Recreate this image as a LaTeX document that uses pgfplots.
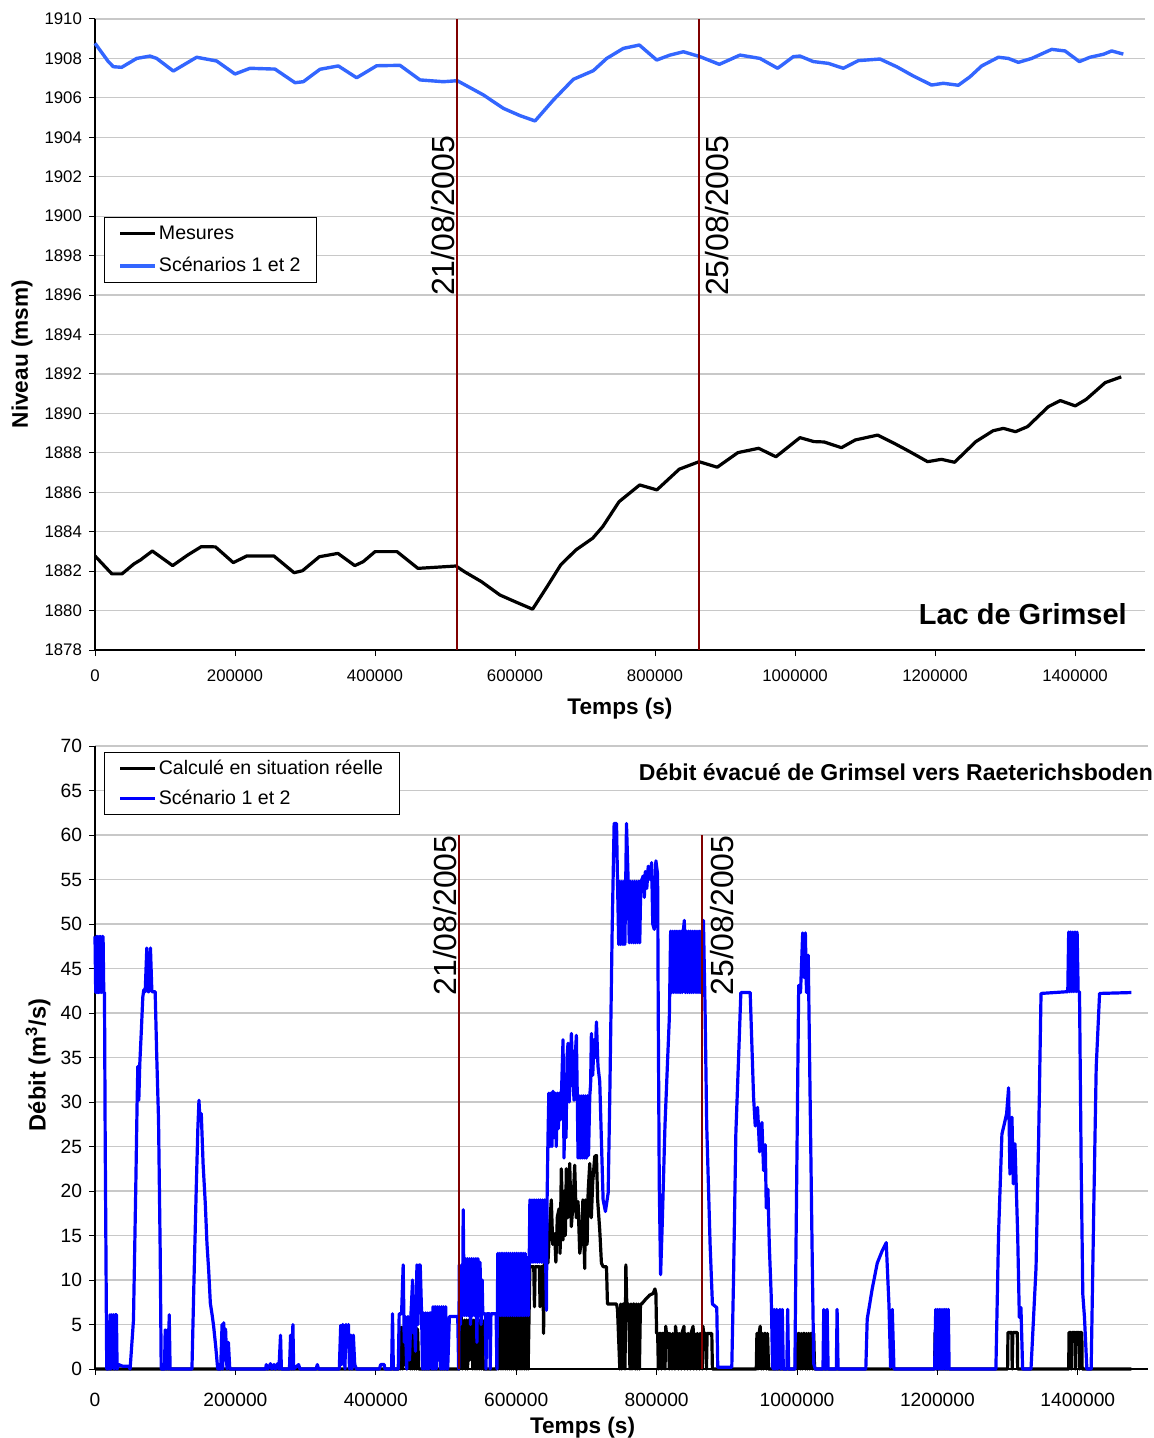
\documentclass[border=0pt]{standalone}
\usepackage{fontspec}
\setmainfont{Liberation Sans}
\usepackage{pgfplots}
\pgfplotsset{compat=1.18}
\definecolor{darkred}{RGB}{128,0,0}
\definecolor{lightblue}{RGB}{51,102,255}
\definecolor{gridgray}{RGB}{200,200,200}
\pgfplotsset{excel/.style={
  scale only axis,
  axis x line=bottom, axis y line=left,
  axis line style={-, black, line width=0.6pt},
  tick align=outside, major tick length=3pt,
  tick style={black, line width=0.5pt},
  ymajorgrids, grid style={gridgray, line width=0.6pt},
  xmin=0, xmax=1500000,
  xtick={0,200000,400000,600000,800000,1000000,1200000,1400000},
  xticklabels={0,200000,400000,600000,800000,1000000,1200000,1400000},
  scaled x ticks=false, scaled y ticks=false,
  yticklabel style={/pgf/number format/fixed, /pgf/number format/1000 sep={}},
  /pgf/number format/assume math mode=true,
  label style={font=\fontsize{11.3}{13}\selectfont\bfseries},
  legend cell align=left,
  legend image code/.code={\draw[#1] (0pt,0pt) -- (17.5pt,0pt);},
  every axis plot/.append style={line join=round},
  clip=false,
}}
\begin{document}
\begin{tikzpicture}
\path[use as bounding box] (0,0) rectangle (577pt,-719pt);
% ---------------- top axis ----------------
\begin{axis}[excel,
  at={(47.5pt,-325pt)}, anchor=south west,
  width=525pt, height=315.5pt,
  ymin=1878, ymax=1910, ytick={1878,1880,...,1910},
  tick label style={font=\fontsize{8.4}{10}\selectfont},
  xticklabel style={yshift=-3.5pt},
  xlabel={Temps (s)}, ylabel={Niveau (msm)},
  xlabel style={at={(axis description cs:0.5,0)}, anchor=center, yshift=-29.5pt},
  ylabel style={at={(axis description cs:-0.0695,0.469)}, anchor=center},
  legend style={at={(0.0086,0.686)}, anchor=north west, draw=black, line width=0.5pt, fill=white,
    inner xsep=7pt, inner ysep=3pt, row sep=5.5pt, nodes={inner sep=1pt},
    font=\fontsize{9.8}{11}\selectfont},
]
\addplot[black, line width=1.6pt, mark=none] coordinates {
(0,1882.77)(24100,1881.86)(38600,1881.86)(55400,1882.36)(65100,1882.57)(81900,1883.02)(110900,1882.28)(132600,1882.82)(151800,1883.24)(172100,1883.23)(197600,1882.43)(216900,1882.77)(255500,1882.77)(284400,1881.92)(296400,1882.02)(320500,1882.73)(347000,1882.90)(371100,1882.28)(383200,1882.48)(400100,1882.99)(431400,1882.99)(461300,1882.14)(515700,1882.26)(527800,1881.97)(551900,1881.47)(578400,1880.79)(600100,1880.45)(625100,1880.07)(645800,1881.21)(665200,1882.31)(686800,1883.07)(711000,1883.67)(725400,1884.26)(748600,1885.52)(778100,1886.37)(802700,1886.12)(834700,1887.17)(862900,1887.55)(888900,1887.27)(918400,1888.01)(948000,1888.23)(972700,1887.80)(1007100,1888.77)(1026900,1888.57)(1041600,1888.55)(1066300,1888.26)(1086000,1888.65)(1118000,1888.90)(1140100,1888.51)(1162300,1888.09)(1189400,1887.55)(1209100,1887.67)(1227900,1887.52)(1258400,1888.57)(1283000,1889.12)(1297700,1889.24)(1315000,1889.07)(1332300,1889.33)(1361900,1890.34)(1379000,1890.65)(1400300,1890.38)(1416000,1890.71)(1443100,1891.56)(1466000,1891.85)
};
\addlegendentry{Mesures}
\addplot[lightblue, line width=1.7pt, mark=none] coordinates {
(0,1908.77)(19000,1907.84)(26200,1907.58)(38100,1907.55)(59500,1908.0)(78600,1908.12)(88100,1908.0)(111900,1907.36)(145200,1908.06)(173800,1907.87)(200000,1907.21)(221400,1907.5)(257100,1907.46)(285700,1906.77)(297600,1906.82)(321400,1907.45)(347600,1907.62)(373800,1907.02)(402400,1907.63)(435700,1907.65)(464300,1906.91)(497600,1906.82)(517600,1906.87)(554800,1906.15)(583300,1905.47)(607100,1905.10)(628600,1904.83)(654800,1905.89)(683300,1906.94)(711900,1907.38)(731000,1908.0)(754800,1908.51)(777600,1908.68)(802400,1907.92)(821400,1908.17)(840500,1908.34)(864300,1908.09)(891900,1907.70)(921400,1908.17)(950000,1908.0)(975200,1907.5)(997600,1908.09)(1007100,1908.12)(1026200,1907.84)(1047600,1907.75)(1069000,1907.5)(1090500,1907.89)(1121400,1907.97)(1145200,1907.58)(1169000,1907.11)(1195200,1906.65)(1211900,1906.74)(1233300,1906.64)(1250000,1907.07)(1266700,1907.62)(1290500,1908.06)(1304800,1908.0)(1319000,1907.80)(1338100,1908.0)(1366700,1908.46)(1385700,1908.38)(1406200,1907.84)(1421400,1908.06)(1440500,1908.21)(1452400,1908.38)(1469000,1908.22)
};
\addlegendentry{Scénarios 1 et 2}
\addplot[darkred, line width=0.8pt, forget plot] coordinates {(517000,1878)(517000,1910)};
\addplot[darkred, line width=0.8pt, forget plot] coordinates {(863000,1878)(863000,1910)};
\node[rotate=90, anchor=south east, inner xsep=0pt, inner ysep=1pt, font=\fontsize{16}{18}\selectfont] at (axis cs:517000,1904.1) {21/08/2005};
\node[rotate=90, anchor=north east, inner xsep=0pt, inner ysep=3pt, font=\fontsize{16}{18}\selectfont] at (axis cs:863000,1904.1) {25/08/2005};
\node[anchor=east, inner sep=0pt, font=\fontsize{14.5}{16}\selectfont\bfseries] at (rel axis cs:0.983,0.057) {Lac de Grimsel};
\end{axis}
% ---------------- bottom axis ----------------
\begin{axis}[excel,
  at={(47.5pt,-684.5pt)}, anchor=south west,
  width=526.5pt, height=311.5pt,
  ymin=0, ymax=70, ytick={0,5,...,70},
  tick label style={font=\fontsize{9.6}{11}\selectfont},
  xticklabel style={yshift=-5.5pt},
  xlabel={Temps (s)}, ylabel={Débit (m\textsuperscript{3}/s)},
  xlabel style={at={(axis description cs:0.463,0)}, anchor=center, yshift=-29.5pt},
  ylabel style={at={(axis description cs:-0.0541,0.488)}, anchor=center, font=\fontsize{11.8}{13}\selectfont\bfseries},
  legend style={at={(0.0086,0.99)}, anchor=north west, draw=black, line width=0.5pt, fill=white,
    inner xsep=7pt, inner ysep=2.5pt, row sep=4.5pt, nodes={inner sep=1pt},
    font=\fontsize{9.8}{11}\selectfont},
]
\addplot[black, line width=1.6pt, mark=none] coordinates {
(0,0)(433000,0)(434000,4.7)(435500,0)(437000,4.7)(438500,0)(440000,4.7)(441500,0.5)(443000,4.7)(444500,0)(446000,4.7)(447500,4.7)(449000,0)(450500,4.7)(452000,0)(453500,4.7)(455000,0)(456500,4.7)(458000,0)(459500,4.5)(461000,0)(462000,0)(519500,0)(521400,7.6)(523000,0)(526200,5.5)(527700,0)(529200,5.5)(530700,0)(532200,5.5)(533700,1)(535200,5.5)(536700,5.5)(538200,0)(539700,5.5)(541200,0)(542700,5.5)(544200,0)(545700,5.5)(547200,0)(548700,5.5)(550200,0)(551700,5.5)(553200,0)(554800,0)(572000,0)(573800,5.9)(575300,0)(576800,5.9)(578300,0)(579800,5.9)(581300,0)(582800,5.9)(584300,0)(585800,5.9)(587300,0)(588800,5.9)(590300,0)(591800,5.9)(593300,0)(594800,5.9)(596300,0)(597800,5.9)(599300,0)(600800,5.9)(602300,0)(603800,5.9)(605300,0)(606800,5.9)(608300,0)(609800,5.9)(611300,0)(612800,5.9)(614300,0)(615800,5.9)(617000,0)(618500,7)(619500,11.5)(625000,11.5)(626000,7)(627000,11.5)(633000,11.5)(634000,7)(635000,11.5)(638000,11.5)(639000,4.0)(640000,11.9)(645200,11.9)(647600,16.0)(650000,19.0)(652000,14)(654800,15.2)(656500,12)(658600,17.1)(661000,18)(662500,13)(664300,22.5)(666700,14.5)(668500,20)(670000,15)(671400,22.5)(673500,17)(676200,23.1)(678500,16)(681000,18.6)(683300,22.9)(685500,17)(688100,18.8)(690500,13)(692900,14.5)(695000,19)(697600,11.3)(698600,19.0)(701000,14)(702500,20)(704800,23.1)(707000,17)(709000,21)(711900,23.9)(714300,24.0)(716000,19.0)(719000,15.6)(721400,11.9)(723800,11.5)(728600,11.5)(730000,7.3)(742900,7.3)(744300,6.7)(747600,0)(749000,7.3)(750500,0)(752000,7.3)(753500,7.3)(755000,0)(756200,11.7)(757500,7.3)(760000,7.3)(762000,0)(763500,7.3)(765000,0)(766500,7.3)(768000,7.3)(769500,0)(771000,7.3)(772500,0)(774000,7.3)(775500,0)(777000,7.3)(778600,7.3)(784000,7.8)(790000,8.3)(795200,8.5)(797600,9.0)(799000,8.5)(800000,4.0)(801500,4.0)(802500,0)(803500,4.0)(806000,4.0)(807000,0)(808000,4.0)(811000,4.0)(812000,0)(813000,4.8)(814000,4.0)(817000,4.0)(818000,0)(819000,4.0)(822000,0)(823000,4.0)(826000,0)(827000,4.8)(828000,4.0)(831000,0)(832000,4.0)(835000,0)(836000,4.0)(839000,4.8)(840000,0)(841000,4.0)(844000,0)(845000,4.0)(848000,0)(849000,4.0)(852000,4.8)(853000,0)(854000,4.0)(857000,0)(858000,4.0)(861000,0)(862000,4.0)(865000,0)(866000,4.8)(867000,4.0)(870000,4.0)(871000,0)(872000,4.0)(876000,4.0)(878600,4.0)(879500,0)(942000,0)(942900,4.0)(944500,0)(946000,4.0)(947500,4.8)(949000,0)(950500,4.0)(952000,0)(953500,4.0)(955000,4.0)(956500,0)(958000,4.0)(959500,0)(997500,0)(998600,4.0)(1000000,0)(1001500,4.0)(1003000,4.0)(1004500,0)(1006000,4.0)(1007500,0)(1009000,4.0)(1010500,4.0)(1012000,0)(1013500,4.0)(1015000,0)(1016500,4.0)(1018000,0)(1019500,4.0)(1021000,4.0)(1022500,0)(1023800,4.0)(1025000,0)(1196000,0)(1196700,4.1)(1197500,0)(1300000,0)(1300500,4.1)(1306000,4.1)(1306500,0)(1307500,4.1)(1313800,4.1)(1314300,0)(1387000,0)(1387500,4.1)(1390000,4.1)(1390500,0)(1391500,4.1)(1396000,4.1)(1396500,0)(1397500,4.1)(1402000,4.1)(1402500,0)(1403500,4.1)(1405700,4.1)(1406200,0)(1476200,0)
};
\addlegendentry{Calculé en situation réelle}
\addplot[blue, line width=1.6pt, mark=none] coordinates {
(0,48.6)(1000,42.3)(2000,48.6)(3000,42.3)(4000,48.6)(5000,42.3)(6000,48.6)(7000,42.3)(8000,48.6)(9500,42.3)(10500,48.6)(11500,48.6)(12500,42.3)(13500,42.3)(14500,26)(16700,0)
(18000,0)(19000,5.2)(20000,0)(21500,6.1)(22500,0)(24000,6.1)(25000,1)(26500,6.1)(27500,0)(29000,6.1)(30500,6.1)(31500,0)(33500,0.5)(40000,0.3)(48000,0.3)(50000,0)
(54800,5.5)(58100,20.5)(60000,30)(61000,34.0)(62400,30.2)(63800,34.3)(66000,38)(68100,41.8)(69500,42.6)(71500,42.4)(73800,47.3)(75200,42.4)(77000,42.4)(79000,47.3)(81000,42.4)(85700,42.4)(88000,35)(90500,28)(92900,13)(94300,0)
(99000,0)(100000,4.4)(101500,0)(103000,4.4)(104500,0)(105700,6.1)(107000,0)(138100,0)(141000,10)(144300,20.5)(146500,27)(148100,30.2)(149500,28)(151400,28.7)(154000,23)(157100,18.6)(159500,14.1)(162000,11)(164300,7.4)(167000,6)(169000,4.8)(172000,2.5)(174800,0)(179000,0)(181000,5)(182000,0)(183300,5.2)(184500,1)(186000,4.5)(188000,0)(190000,3)(192000,0)
(243000,0)(244000,0.5)(246000,0)(250000,0.6)(252000,0)(255000,0.5)(257000,0)(260000,0.6)(262000,0)(264300,3.8)(265500,0)(277000,0)(278600,3.8)(280000,0)(281900,5.0)(283000,0)(290000,0.5)(292000,0)(315000,0)(316700,0.5)(318500,0)
(348000,0)(350000,4.9)(351500,0.5)(353000,5)(354500,4.5)(356000,0)(357500,5)(359000,3)(361000,5)(362500,0)(364500,3.8)(366000,0)(368000,3.8)(370000,0.5)(372400,0)
(405000,0)(407000,0.5)(412000,0.5)(413000,0)(422500,0)(423800,6.2)(425000,0)(432000,0)(433300,6.2)(436700,6.2)(439000,11.7)(440500,3)(442000,5.9)(444000,0)(446000,5.9)(448000,1)(450000,6)(452400,10)(454000,4)(454800,6.3)(456500,2)(458600,11.7)(460000,5)(461500,11.7)(463300,11.7)(465200,6.3)(466500,0)(468000,6.3)(469500,0)(471000,6.3)(472500,0)(474000,6.3)(475500,0)(477000,6.3)(478600,6.3)(480000,0)(481500,7)(483000,0)(484500,7)(486000,0)(487500,7)(489000,1)(490500,7)(492000,0)(493500,7)(495000,0)(496500,7)(498000,0)(499500,7)(501000,0)(502400,0)(504800,5.9)(516700,5.9)(518000,0)(519000,11.7)(520500,5)(522000,11)(523500,6)(524500,17.9)(526000,6)(527500,12.4)(529000,6)(530500,12.4)(532000,6)(533500,12.4)(535000,5)(536500,12.4)(538000,6)(539500,12.4)(541000,6)(542500,12.4)(544000,3)(545500,12.4)(547000,6)(548500,12)(550000,5)(551500,10)(552400,6.2)(556000,6.2)(557000,0)(558000,6.2)(562000,6.2)(563000,0)(564000,6.2)(571400,6.2)(572500,0)(573800,13)(575300,6)(576800,13)(578300,6)(579800,13)(581300,6)(582800,13)(584300,6)(585800,13)(587300,6)(588800,13)(590300,6)(591800,13)(593300,6)(594800,13)(596300,6)(597800,13)(599300,6)(600800,13)(602300,6)(603800,13)(605300,6)(606800,13)(608300,6)(609800,13)(611300,6)(612800,13)(614300,6)(615800,12.5)(617300,6)(618500,12)(619500,19)(621000,12)(622500,19)(624000,12)(625500,19)(627000,12)(628500,19)(630000,12)(631500,19)(633000,12)(634500,19)(636000,12)(637500,19)(639000,12)(640500,19)(642000,12)(643000,6.6)(644000,19)(645200,25.7)
(646500,31)(648000,25)(649500,31)(651000,25)(652400,31.2)(654000,26)(655500,31)(657100,25)(658500,31)(660000,27)(661500,31)(663000,28)(664500,31)(666700,37)(668100,23.7)(669500,30)(671000,26)(672400,35)(673800,36.6)(675500,30)(677000,34)(678600,37.7)(680500,33)(682400,30.2)(684000,35)(685700,37.5)(687000,30.7)(688100,23.7)(689500,30.7)(691000,23.7)(692500,30.7)(694000,23.7)(695500,30.7)(697000,23.7)(698500,30.7)(700000,23.7)(701500,30.7)(703000,24)(704800,30.7)(706000,32)(707100,37.7)(709000,33)(711000,37)(712500,35)(714300,39.0)(716500,34)(719000,32.3)(721400,25.6)(723800,19.0)(727100,17.7)(731000,19.8)(733300,30.6)(736700,49.4)(739500,61.3)(742900,61.3)(744300,54.8)(746000,47.7)(747600,54.8)(749000,47.7)(750500,54.8)(752000,47.7)(753500,54.8)(754800,47.7)(757100,61.3)(759500,54.8)(761000,47.9)(762500,54.8)(764000,47.9)(765500,54.8)(767000,47.9)(768500,54.8)(770000,47.9)(771500,54.8)(773000,47.9)(774500,54.8)(776000,47.9)(777500,54.8)(778600,54.9)(780900,55.4)(782500,53)(784000,55.9)(786000,54)(788100,56.5)(790500,55)(792900,56.9)(794500,50)(796700,49.4)(798000,55)(799000,57.1)(801400,55.6)(802400,39.0)(803800,20.6)(805700,10.6)(808100,16.5)(811900,27.3)(815700,34.8)(818100,39.4)(820000,49.2)(821500,42.3)(823000,49.2)(824500,42.3)(826000,49.2)(827500,42.3)(829000,49.2)(830500,42.3)(832000,49.2)(833500,42.3)(835000,49.2)(836500,42.3)(838000,49.2)(839500,50.4)(841000,42.3)(842500,49.2)(844000,42.3)(845500,49.2)(847000,42.3)(848500,49.2)(850000,42.3)(851500,49.2)(853000,42.3)(854500,49.2)(856000,42.3)(857500,49.2)(859000,42.3)(860500,49.2)(862000,42.3)(863500,49.2)(865000,42.3)(866700,50.4)(869000,40.6)(871400,27.3)(876200,14.0)(879500,7.3)(885700,6.9)(887100,0.2)(907100,0.2)(909500,9.8)(912900,26.5)(916700,34.8)(920000,42.3)(933300,42.3)(938100,30.6)(940500,27.3)(943800,29.4)(946700,24.4)(950000,27.7)(952400,22.3)(954800,25.2)(956200,18.1)(958600,20.2)(960500,14.0)(963300,8.1)(965200,0.2)(966700,0)(967600,6.7)(969000,0)(970900,6.7)(972300,0)(975700,6.7)(977000,0)(979000,6.7)(980500,0)(985500,0)(986700,6.7)(988000,0)(997000,0)(998600,14.0)(1002400,43.1)(1005000,42.3)(1008100,49.0)(1010000,44)(1011900,49.0)(1013500,42.3)(1016000,46.5)(1019000,28.5)(1021400,14.0)(1023800,0.6)(1026000,0)(1037000,0)(1038100,6.7)(1039500,0)(1041500,0)(1042900,6.7)(1044300,0)(1056000,0)(1057100,6.7)(1058500,0)(1098000,0)(1100000,5.6)(1107100,9.0)(1114300,11.9)(1121400,13.3)(1127100,14.2)(1131000,7.2)(1133300,0.2)(1135700,6.7)(1138100,0)(1196000,0)(1197600,6.7)(1199000,0)(1200500,6.7)(1202000,0)(1203500,6.7)(1205000,0)(1206500,6.7)(1208000,0)(1209500,6.7)(1211000,0)(1212500,6.7)(1214000,0)(1215500,6.7)(1216700,0)(1283300,0)(1287100,15.2)(1291900,26.4)(1295200,27.5)(1298600,28.7)(1301400,31.6)(1303300,21.9)(1306200,28.3)(1308100,20.8)(1310500,25.3)(1314300,15.2)(1316700,5.8)(1319000,6.9)(1321400,0)(1333300,0)(1340500,11.4)(1344300,26.4)(1347600,42.2)(1385700,42.4)(1387000,49.1)(1388500,42.4)(1390000,49.1)(1391500,42.4)(1393000,49.1)(1394500,42.4)(1396000,49.1)(1397500,42.4)(1399000,49.1)(1400500,42.4)(1402400,42.4)(1404800,22.7)(1407100,8.4)(1409500,5.8)(1412900,0)(1419000,0)(1422900,18.9)(1426200,33.9)(1431000,42.2)(1476200,42.3)
};
\addlegendentry{Scénario 1 et 2}
\addplot[darkred, line width=0.8pt, forget plot] coordinates {(518500,0)(518500,60)};
\addplot[darkred, line width=0.8pt, forget plot] coordinates {(864700,0)(864700,60)};
\node[rotate=90, anchor=south east, inner xsep=0pt, inner ysep=1pt, font=\fontsize{16}{18}\selectfont] at (axis cs:518500,60) {21/08/2005};
\node[rotate=90, anchor=north east, inner xsep=0pt, inner ysep=3.8pt, font=\fontsize{16}{18}\selectfont] at (axis cs:864700,60) {25/08/2005};
\node[anchor=east, inner sep=0pt, font=\fontsize{11.5}{13}\selectfont\bfseries] at (rel axis cs:1.005,0.958) {Débit évacué de Grimsel vers Raeterichsboden};
\end{axis}
\end{tikzpicture}
\end{document}
